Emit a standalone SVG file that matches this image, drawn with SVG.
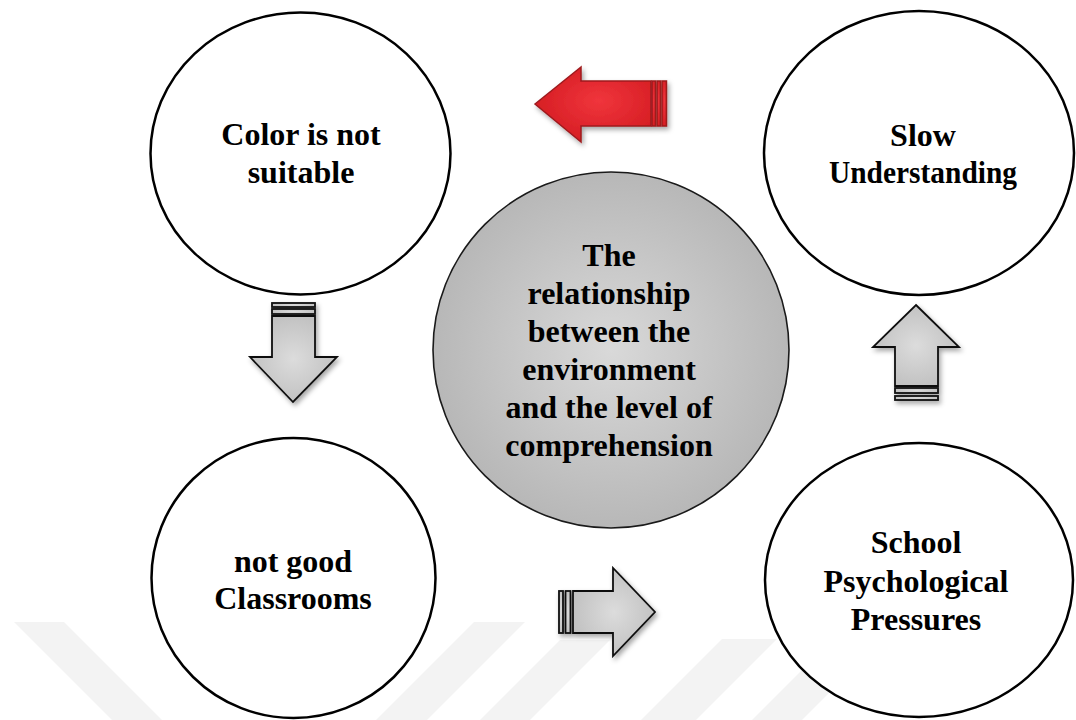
<svg xmlns="http://www.w3.org/2000/svg" width="1076" height="720" viewBox="0 0 1076 720">
  <defs>
    <radialGradient id="gCenter" cx="50%" cy="50%" r="55%">
      <stop offset="0" stop-color="#d9d9d9"/>
      <stop offset="1" stop-color="#b4b4b4"/>
    </radialGradient>
    <radialGradient id="gArrow" cx="50%" cy="50%" r="60%">
      <stop offset="0" stop-color="#dcdcdc"/>
      <stop offset="1" stop-color="#bdbdbd"/>
    </radialGradient>
    <radialGradient id="gRed" cx="55%" cy="45%" r="60%">
      <stop offset="0" stop-color="#f0353c"/>
      <stop offset="1" stop-color="#d41c22"/>
    </radialGradient>
    <filter id="shadow" x="-30%" y="-30%" width="160%" height="160%">
      <feDropShadow dx="2" dy="3" stdDeviation="2.5" flood-color="#000" flood-opacity="0.35"/>
    </filter>
  </defs>
  <style>
    .lbl { font-family: "Liberation Serif", "Times New Roman", serif; font-weight: bold; font-size: 32px; fill: #000; text-anchor: middle; }
    .circ { fill: #fff; stroke: #000; stroke-width: 2.5; }
    .center { fill: url(#gCenter); stroke: #1a1a1a; stroke-width: 1.6; }
    .garrow { fill: url(#gArrow); stroke: #111; stroke-width: 1.8; stroke-linejoin: miter; }
    .rarrow { fill: url(#gRed); stroke: #9e1a1e; stroke-width: 1.5; }
    .wm { fill: #f3f3f3; }
  </style>
  <rect width="1076" height="720" fill="#fff"/>

  <g id="watermark">
    <polygon class="wm" points="14,622 64,622 162,720 112,720"/>
    <polygon class="wm" points="474,622 525,622 427,720 376,720"/>
    <polygon class="wm" points="560,640 610,640 530,720 480,720"/>
    <polygon class="wm" points="722,639 777,639 696,720 641,720"/>
    <polygon class="wm" points="850,622 900,622 802,720 752,720"/>
  </g>

  <g id="node-center">
    <circle class="center" cx="611" cy="350" r="178"/>
    <text class="lbl" x="609" y="266">The</text>
    <text class="lbl" x="609" y="304">relationship</text>
    <text class="lbl" x="609" y="342">between the</text>
    <text class="lbl" x="609" y="380">environment</text>
    <text class="lbl" x="609" y="418">and the level of</text>
    <text class="lbl" x="609" y="456">comprehension</text>
  </g>

  <g id="node-color">
    <ellipse class="circ" cx="300.5" cy="153.5" rx="150" ry="141"/>
    <text class="lbl" x="301" y="145">Color is not</text>
    <text class="lbl" x="301" y="183">suitable</text>
  </g>

  <g id="node-slow">
    <ellipse class="circ" cx="919" cy="153" rx="155" ry="142"/>
    <text class="lbl" x="923" y="146">Slow</text>
    <text class="lbl" x="923" y="183" textLength="188" lengthAdjust="spacingAndGlyphs">Understanding</text>
  </g>

  <g id="node-classrooms">
    <ellipse class="circ" cx="293.5" cy="578" rx="142" ry="140"/>
    <text class="lbl" x="293" y="572">not good</text>
    <text class="lbl" x="293" y="609">Classrooms</text>
  </g>

  <g id="node-pressures">
    <ellipse class="circ" cx="919" cy="580" rx="154" ry="137"/>
    <text class="lbl" x="916" y="553">School</text>
    <text class="lbl" x="916" y="592">Psychological</text>
    <text class="lbl" x="916" y="630">Pressures</text>
  </g>

  <g id="connectors">
    <!-- red arrow: slow understanding -> color -->
    <g filter="url(#shadow)">
      <polygon class="rarrow" points="535,104 581,67 581,81 651,81 651,126 581,126 581,142"/>
      <rect class="rarrow" x="652" y="81" width="3.5" height="45"/>
      <rect class="rarrow" x="657" y="81" width="3.5" height="45"/>
      <rect class="rarrow" x="662" y="81" width="4.5" height="45"/>
    </g>
    <!-- down arrow: color -> classrooms -->
    <g filter="url(#shadow)">
      <rect class="garrow" x="272" y="303" width="43" height="4"/>
      <rect class="garrow" x="272" y="309" width="43" height="5"/>
      <polygon class="garrow" points="272,316 315,316 315,357 337,357 293,402 250,357 272,357"/>
    </g>
    <!-- right arrow: classrooms -> pressures -->
    <g filter="url(#shadow)">
      <rect class="garrow" x="559" y="591" width="4" height="42"/>
      <rect class="garrow" x="565.5" y="591" width="5" height="42"/>
      <polygon class="garrow" points="573,591 613,591 613,568 655,612 613,656 613,633 573,633"/>
    </g>
    <!-- up arrow: pressures -> slow understanding -->
    <g filter="url(#shadow)">
      <polygon class="garrow" points="916,305 959,347 938,347 938,386 895,386 895,347 873,347"/>
      <rect class="garrow" x="895" y="388" width="43" height="5"/>
      <rect class="garrow" x="895" y="396" width="43" height="4"/>
    </g>
  </g>
</svg>
